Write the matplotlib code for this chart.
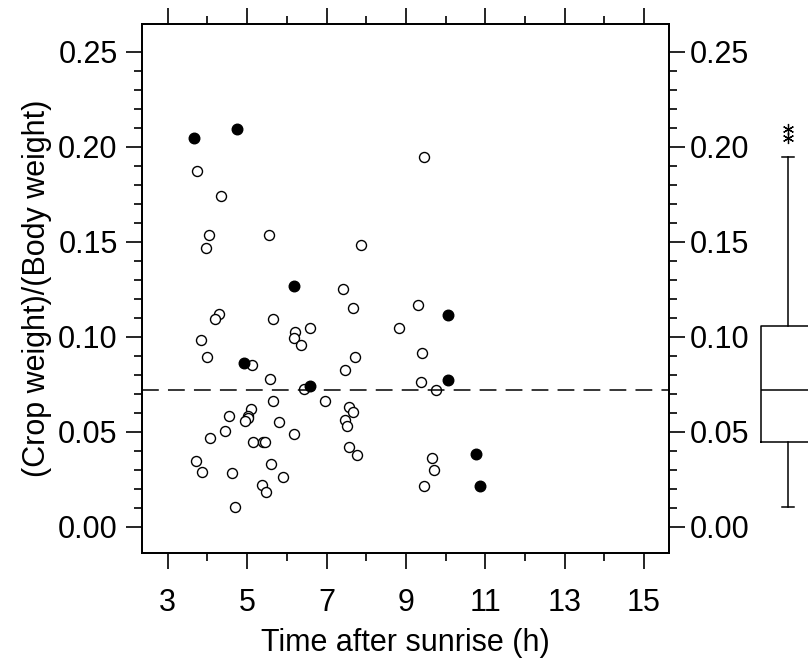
import numpy as np
import matplotlib.pyplot as plt

plt.rcParams['font.family'] = ['Liberation Sans', 'DejaVu Sans']
plt.rcParams['font.size'] = 22

# open circles
x_open = [9.45, 3.74, 4.33, 4.03, 3.96, 5.54, 7.86, 7.41, 7.66, 9.31,
          4.28, 4.19, 5.65, 8.82, 6.58, 6.21, 6.18, 3.83, 6.36,
          3.98, 5.12, 7.71, 9.41, 7.47, 5.58, 9.37, 6.43, 5.64, 6.97,
          7.57, 7.66, 5.09, 5.01, 5.03, 4.95, 4.53, 5.81, 7.46, 7.51,
          4.44, 4.07, 6.19, 5.14, 5.40, 5.44, 7.56, 7.76, 3.70, 3.87,
          4.62, 5.61, 5.90, 5.38, 5.48, 4.69, 9.77, 9.66, 9.72, 9.46]
y_open = [0.1947, 0.1874, 0.1742, 0.1537, 0.1468, 0.1538, 0.1484, 0.1254, 0.1154, 0.1168,
          0.1119, 0.1095, 0.1095, 0.1047, 0.1047, 0.1026, 0.0995, 0.0984, 0.0958,
          0.0893, 0.0853, 0.0893, 0.0914, 0.0828, 0.0781, 0.0763, 0.0725, 0.0661, 0.0661,
          0.0633, 0.0604, 0.0619, 0.0586, 0.0572, 0.0558, 0.0586, 0.0553, 0.0561, 0.0530,
          0.0504, 0.0470, 0.0491, 0.0449, 0.0447, 0.0446, 0.0421, 0.0381, 0.0346, 0.0289,
          0.0284, 0.0333, 0.0265, 0.0223, 0.0183, 0.0104, 0.0719, 0.0363, 0.0300, 0.0217]

# filled circles
x_fill = [3.66, 4.74, 6.19, 4.91, 6.59, 10.07, 10.07, 10.76, 10.87]
y_fill = [0.2049, 0.2095, 0.1268, 0.0865, 0.0740, 0.1117, 0.0774, 0.0383, 0.0214]

x_ticks = [3, 5, 7, 9, 11, 13, 15]
y_ticks = [0.00, 0.05, 0.10, 0.15, 0.20, 0.25]

all_y = np.array(y_open + y_fill)
med = np.median(all_y)

fig = plt.figure(figsize=(8.08, 6.6), dpi=100)
ax = fig.add_axes([142/808, 1 - 553/660, 527/808, 529/660])

ax.plot(x_open, y_open, 'o', mfc='white', mec='black', ms=7.2, mew=1.0)
ax.plot(x_fill, y_fill, 'o', mfc='black', mec='black', ms=7.6, mew=1.0)
ax.axhline(med, color='black', lw=1.1, dashes=(11, 6))

ax.set_xlim(2.35, 15.63)
ax.set_ylim(-0.0137, 0.2647)
ylabels = [f'{v:.2f}' for v in y_ticks]

# right side axis (labels sit a bit closer to the ticks)
axr = ax.twinx()
axr.set_ylim(ax.get_ylim())

for a in (ax, axr):
    a.set_yticks(y_ticks)
    a.set_yticklabels(ylabels)
    a.set_yticks(np.arange(0, 0.26, 0.01), minor=True)
    a.tick_params(which='both', direction='out', width=1.2)
    a.tick_params(which='major', length=11.5)
    a.tick_params(which='minor', length=6)
    for s in a.spines.values():
        s.set_linewidth(1.3)

ax.set_xticks(x_ticks)
ax.set_xticks(np.arange(4, 15, 2), minor=True)
ax.tick_params(which='both', top=True, right=False)
ax.tick_params(axis='x', pad=14)
ax.tick_params(axis='y', pad=6)
axr.tick_params(axis='y', pad=3.6)

ax.set_xlabel('Time after sunrise (h)', labelpad=7)
ax.set_ylabel('(Crop weight)/(Body weight)', labelpad=4.5)

# boxplot at the right edge
ax2 = fig.add_axes([748/808, 1 - 553/660, 80/808, 529/660])
ax2.boxplot(all_y, positions=[0.5], widths=0.667, whis=1.5, capwidths=0.15,
            boxprops=dict(color='black', lw=1.1),
            whiskerprops=dict(color='black', lw=1.1),
            capprops=dict(color='black', lw=1.1),
            medianprops=dict(color='black', lw=1.1),
            flierprops=dict(marker=(6, 2, 0), color='black', mec='black', ms=8, mew=0.9))
ax2.set_xlim(0, 1)
ax2.set_ylim(ax.get_ylim())
ax2.axis('off')

fig.savefig('out.png', dpi=100)
